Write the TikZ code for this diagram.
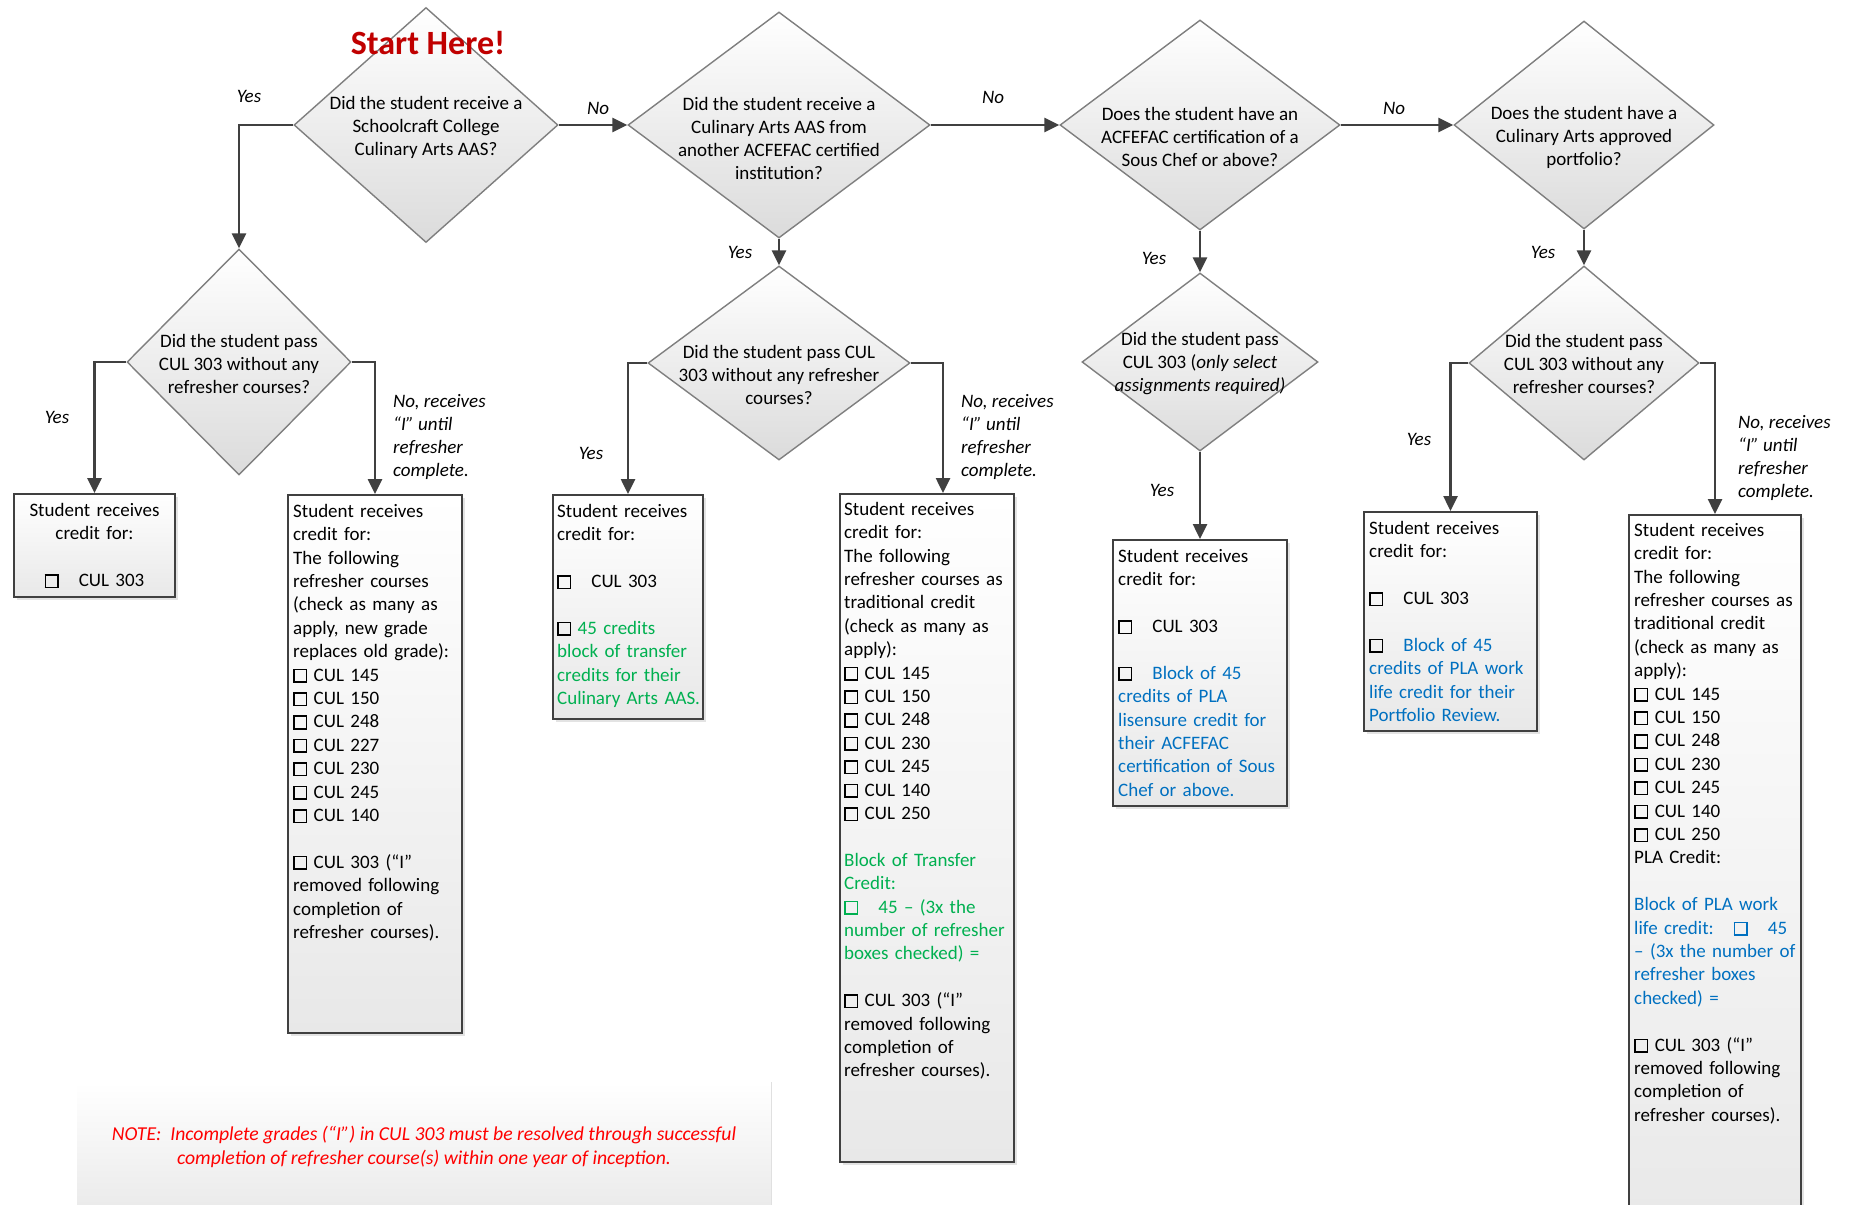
\documentclass[tikz,border=0pt]{standalone}
\usepackage{fontspec}
\setmainfont{Carlito}
\usetikzlibrary{shapes.geometric,arrows.meta,shadows,calc}
\definecolor{dred}{HTML}{C00000}
\definecolor{nred}{HTML}{FF0000}
\definecolor{grn}{HTML}{00B050}
\definecolor{blu}{HTML}{0070C0}
\definecolor{lnc}{HTML}{404040}
\definecolor{dgc}{HTML}{7F7F7F}
\newcommand{\chk}{{\setlength{\fboxsep}{0pt}\setlength{\fboxrule}{1.6pt}\fbox{\rule{0pt}{11pt}\hspace{11pt}}}}
\begin{document}
\begin{tikzpicture}[x=1pt,y=-1pt,
  dia/.style={diamond, draw=dgc, line width=1.4pt, top color=white, bottom color=black!14, inner sep=0pt},
  qtxt/.style={font=\fontsize{19}{23}\selectfont, align=center, inner sep=0pt},
  box/.style={rectangle, draw=lnc, line width=2pt, top color=white, bottom color=black!9, anchor=north west, inner sep=0pt,
    drop shadow={shadow xshift=3pt, shadow yshift=-3pt, opacity=0.22}},
  btxt/.style={font=\fontsize{19}{23.4}\selectfont, align=left, inner sep=0pt, anchor=north west},
  conn/.style={draw=lnc, line width=2.6pt, -{Triangle[length=15pt,width=14pt]}},
  lbl/.style={font=\fontsize{19}{23}\selectfont\itshape, inner sep=0pt, align=left},
]
\useasboundingbox (0,0) rectangle (1854,1204);
\fill[white] (0,0) rectangle (1854,1204);
\begin{scope}
\clip (0,0) rectangle (1854,1204);

% note box
\node[rectangle, anchor=north west, minimum width=694pt, minimum height=140pt, top color=white, bottom color=black!9, inner sep=0pt] (note) at (77,1082) {};
\draw[black!12, line width=1.5pt] (note.north east) -- (note.south east);
\node[font=\fontsize{19.7}{23.5}\selectfont\itshape, text=nred, align=center, inner sep=0pt] (notetxt) at (424,1147)
  {NOTE:\ \ Incomplete grades (“I”) in CUL 303 must be resolved through successful\\completion of refresher course(s) within one year of inception.};

% diamonds
\node[dia, minimum width=264pt, minimum height=235pt] (d1) at (426,125) {};
\node[dia, minimum width=302pt, minimum height=226pt] (d3) at (779,125) {};
\node[dia, minimum width=280pt, minimum height=210pt] (d5) at (1200,125) {};
\node[dia, minimum width=260pt, minimum height=208pt] (d7) at (1584,125) {};
\node[dia, minimum width=224pt, minimum height=226pt] (d2) at (239,362) {};
\node[dia, minimum width=262pt, minimum height=194pt] (d4) at (779,363) {};
\node[dia, minimum width=236pt, minimum height=178pt] (d6) at (1200,362) {};
\node[dia, minimum width=230pt, minimum height=194pt] (d8) at (1584,363) {};

\node[qtxt] (t1) at (426,127) {Did the student receive a\\Schoolcraft College\\Culinary Arts AAS?};
\node[qtxt] (t3) at (779,138) {Did the student receive a\\Culinary Arts AAS from\\another ACFEFAC certified\\institution?};
\node[qtxt] (t5) at (1200,137) {Does the student have an\\ACFEFAC certification of a\\Sous Chef or above?};
\node[qtxt] (t7) at (1584,137) {Does the student have a\\Culinary Arts approved\\portfolio?};
\node[qtxt] (t2) at (239,364) {Did the student pass\\CUL 303 without any\\refresher courses?};
\node[qtxt] (t4) at (779,375) {Did the student pass CUL\\303 without any refresher\\courses?};
\node[qtxt] (t6) at (1200,364) {Did the student pass\\CUL 303 (\textit{only select}\\\textit{assignments required)}};
\node[qtxt] (t8) at (1584,364) {Did the student pass\\CUL 303 without any\\refresher courses?};

\node[font=\fontsize{34}{40}\selectfont\bfseries, text=dred, inner sep=0pt] (start) at (428,43) {Start Here!};

% boxes
\node[box, minimum width=161pt, minimum height=103pt] (b1) at (13,493) {};
\node[box, minimum width=174pt, minimum height=538pt] (b2) at (287,494) {};
\node[box, minimum width=150pt, minimum height=224pt] (b3) at (552,494) {};
\node[box, minimum width=174pt, minimum height=668pt] (b4) at (839,493) {};
\node[box, minimum width=174pt, minimum height=266pt] (b5) at (1112,539) {};
\node[box, minimum width=173pt, minimum height=219pt] (b6) at (1363,511) {};
\node[box, minimum width=172pt, minimum height=730pt] (b7) at (1628,514) {};

\node[btxt, anchor=north, align=center, text width=155pt] (x1) at ([yshift=-10pt]b1.north)
  {Student receives\\credit for:\\~\\\chk\hspace{20pt}CUL 303};
\node[btxt, text width=165pt] (x2) at ([xshift=6pt,yshift=-10pt]b2.north west)
  {Student receives\\credit for:\\The following\\refresher courses\\(check as many as\\apply, new grade\\replaces old grade):\\
   \chk\ CUL 145\\\chk\ CUL 150\\\chk\ CUL 248\\\chk\ CUL 227\\\chk\ CUL 230\\\chk\ CUL 245\\\chk\ CUL 140\\~\\
   \chk\ CUL 303 (“I”\\removed following\\completion of\\refresher courses).};
\node[btxt, text width=160pt] (x3) at ([xshift=5pt,yshift=-10pt]b3.north west)
  {Student receives\\credit for:\\~\\\chk\hspace{20pt}CUL 303\\~\\
   \chk\ \textcolor{grn}{45 credits}\\\textcolor{grn}{block of transfer}\\\textcolor{grn}{credits for their}\\\textcolor{grn}{Culinary Arts AAS.}};
\node[btxt, text width=166pt] (x4) at ([xshift=5pt,yshift=-9pt]b4.north west)
  {Student receives\\credit for:\\The following\\refresher courses as\\traditional credit\\(check as many as\\apply):\\
   \chk\ CUL 145\\\chk\ CUL 150\\\chk\ CUL 248\\\chk\ CUL 230\\\chk\ CUL 245\\\chk\ CUL 140\\\chk\ CUL 250\\~\\
   \textcolor{grn}{Block of Transfer}\\\textcolor{grn}{Credit:}\\\textcolor{grn}{\chk\hspace{20pt}45 – (3x the}\\\textcolor{grn}{number of refresher}\\\textcolor{grn}{boxes checked) =}\\~\\
   \chk\ CUL 303 (“I”\\removed following\\completion of\\refresher courses).};
\node[btxt, text width=166pt] (x5) at ([xshift=6pt,yshift=-10pt]b5.north west)
  {Student receives\\credit for:\\~\\\chk\hspace{20pt}CUL 303\\~\\
   \chk\hspace{20pt}\textcolor{blu}{Block of 45}\\\textcolor{blu}{credits of PLA}\\\textcolor{blu}{lisensure credit for}\\\textcolor{blu}{their ACFEFAC}\\\textcolor{blu}{certification of Sous}\\\textcolor{blu}{Chef or above.}};
\node[btxt, text width=165pt] (x6) at ([xshift=6pt,yshift=-10pt]b6.north west)
  {Student receives\\credit for:\\~\\\chk\hspace{20pt}CUL 303\\~\\
   \chk\hspace{20pt}\textcolor{blu}{Block of 45}\\\textcolor{blu}{credits of PLA work}\\\textcolor{blu}{life credit for their}\\\textcolor{blu}{Portfolio Review.}};
\node[btxt, text width=165pt] (x7) at ([xshift=6pt,yshift=-9pt]b7.north west)
  {Student receives\\credit for:\\The following\\refresher courses as\\traditional credit\\(check as many as\\apply):\\
   \chk\ CUL 145\\\chk\ CUL 150\\\chk\ CUL 248\\\chk\ CUL 230\\\chk\ CUL 245\\\chk\ CUL 140\\\chk\ CUL 250\\PLA Credit:\\~\\
   \textcolor{blu}{Block of PLA work}\\\textcolor{blu}{life credit:\hspace{20pt}\chk\hspace{20pt}45}\\\textcolor{blu}{– (3x the number of}\\\textcolor{blu}{refresher boxes}\\\textcolor{blu}{checked) =}\\~\\
   \chk\ CUL 303 (“I”\\removed following\\completion of\\refresher courses).};

% connectors
\draw[conn] (d1.west) -| (d2.north);
\draw[conn] (d1.east) -- (d3.west);
\draw[conn] (d3.east) -- (d5.west);
\draw[conn] (d5.east) -- (d7.west);
\draw[conn] (d3.south) -- (d4.north);
\draw[conn] (d5.south) -- (d6.north);
\draw[conn] (d7.south) -- (d8.north);
\draw[conn] (d2.west) -| (b1.north);
\draw[conn] (d2.east) -| (b2.north);
\draw[conn] (d4.west) -| (b3.north);
\draw[conn] (d4.east) -| ([xshift=16pt]b4.north);
\draw[conn] (d6.south) -- (d6.south |- b5.north);
\draw[conn] (d8.west) -| (b6.north);
\draw[conn] (d8.east) -| (b7.north);

% labels
\node[lbl] (l1) at (249,96) {Yes};
\node[lbl] (l2) at (598,108) {No};
\node[lbl] (l3) at (993,97) {No};
\node[lbl] (l4) at (1394,108) {No};
\node[lbl] (l5) at (740,252) {Yes};
\node[lbl] (l6) at (1154,258) {Yes};
\node[lbl] (l7) at (1543,252) {Yes};
\node[lbl] (l8) at (57,417) {Yes};
\node[lbl] (l9) at (591,453) {Yes};
\node[lbl] (l10) at (1162,490) {Yes};
\node[lbl] (l11) at (1419,439) {Yes};
\node[lbl, anchor=north west] (n1) at (393,394) {No, receives\\“I” until\\refresher\\complete.};
\node[lbl, anchor=north west] (n2) at (961,394) {No, receives\\“I” until\\refresher\\complete.};
\node[lbl, anchor=north west] (n3) at (1738,415) {No, receives\\“I” until\\refresher\\complete.};
\end{scope}
\end{tikzpicture}
\end{document}
